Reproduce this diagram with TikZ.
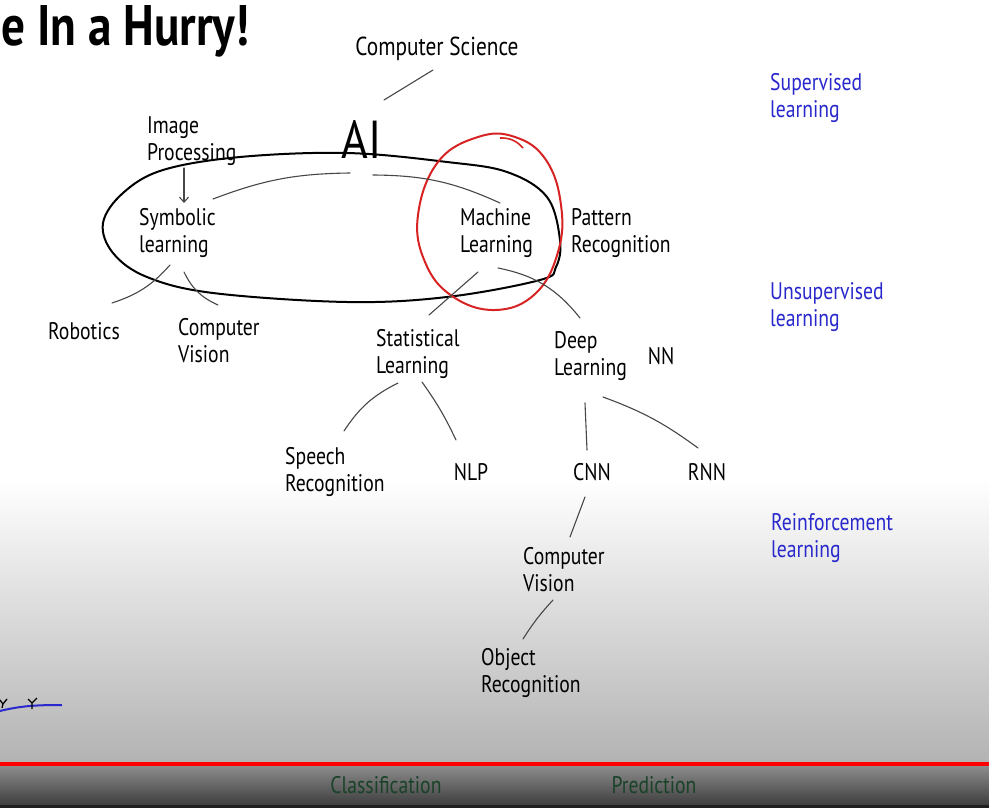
\documentclass[tikz,border=0pt]{standalone}
\usepackage{graphicx}
\usepackage{fontspec}
\setmainfont{PT Sans}[FakeStretch=0.82]
\usetikzlibrary{arrows.meta,calc}
\definecolor{mblue}{RGB}{40,40,205}
\definecolor{mgreen}{RGB}{25,66,40}
\definecolor{mred}{RGB}{215,35,35}
\definecolor{bartop}{RGB}{140,140,140}
\definecolor{barbot}{RGB}{62,62,62}
\begin{document}
\begin{tikzpicture}[x=1pt,y=-1pt,
  lbl/.style={font=\fontsize{24}{27}\selectfont, align=left, inner sep=0pt, anchor=west},
  blbl/.style={lbl, text=mblue},
  conn/.style={draw=black!72, line width=1.1pt, line cap=round},
  loop/.style={draw=black, line width=2pt},
  ]
\useasboundingbox (0,0) rectangle (989,808);
% background
\fill[white] (0,0) rectangle (989,481);
\shade[top color=white, bottom color=black!30] (0,480) rectangle (989,763);
\fill[red] (0,762) rectangle (989,766);
\shade[top color=bartop, bottom color=barbot] (0,766) rectangle (989,805);
\fill[black!88] (0,805) rectangle (989,808);

% title
\node[anchor=base west, inner sep=0pt] (title) at (1,46) {\resizebox{248pt}{40pt}{\bfseries e In a Hurry!}};

% nodes
\node[lbl, anchor=center, font=\fontsize{26}{28}\selectfont] (cs) at (437,49) {Computer Science};
\node[inner sep=0pt] (ai) at (362,139) {\resizebox{40pt}{38pt}{AI}};
\node[lbl] (ip) at (147,141) {Image\\Processing};
\node[lbl] (sym) at (139,233) {Symbolic\\learning};
\node[lbl] (ml) at (460,233) {Machine\\Learning};
\node[lbl] (pr) at (571,233) {Pattern\\Recognition};
\node[lbl] (rob) at (48,331) {Robotics};
\node[lbl] (cv1) at (178,341) {Computer\\Vision};
\node[lbl] (stat) at (376,354) {Statistical\\Learning};
\node[lbl] (deep) at (554,356) {Deep\\Learning};
\node[lbl, anchor=center] (nn) at (661,356) {NN};
\node[lbl] (speech) at (285,472) {Speech\\Recognition};
\node[lbl, anchor=center] (nlp) at (471,472) {NLP};
\node[lbl, anchor=center] (cnn) at (592,472) {CNN};
\node[lbl, anchor=center] (rnn) at (707,472) {RNN};
\node[lbl] (cv2) at (523,570) {Computer\\Vision};
\node[lbl] (obj) at (481,673) {Object\\Recognition};

\node[blbl] (sup) at (770,98) {Supervised\\learning};
\node[blbl] (unsup) at (770,307) {Unsupervised\\learning};
\node[blbl] (reinf) at (771,538) {Reinforcement\\learning};

\node[lbl, anchor=center, text=mgreen] (cls) at (386,785) {Classification};
\node[lbl, anchor=center, text=mgreen] (pred) at (654,785) {Prediction};

% AI loop
\draw[loop] plot[smooth cycle, tension=0.6] coordinates {
  (103,223) (123,193) (163,170) (240,157) (347,153) (447,162) (507,172)
  (547,197) (560,240) (556,267) (540,280) (447,297) (347,302) (213,293)
  (147,277) (113,253)};

% red circle
\draw[mred, line width=2pt] plot[smooth cycle, tension=0.7] coordinates {
  (418,215) (438,162) (478,137) (515,137) (546,160) (561,205) (558,252)
  (535,294) (495,310) (452,296) (425,262)};
\draw[mred, line width=1.6pt] (500,138) to[bend left=25] (523,148);

% connectors
\draw[conn] ($(cs)+(-4,21)$) -- ($(ai)+(22,-39)$);
\draw[conn, -{Straight Barb[length=5pt,width=9pt]}] ($(ip.west)+(37,27)$) -- ($(sym.west)+(45,-30)$);
\draw[conn] ($(sym.west)+(74,-34)$) to[bend left=10] ($(ai)+(-12,34)$);
\draw[conn] ($(ai)+(11,36)$) to[bend left=12] ($(ml.west)+(40,-30)$);
\draw[conn] ($(sym.west)+(31,32)$) to[bend left=15] ($(rob.west)+(64,-28)$);
\draw[conn] ($(sym.west)+(45,39)$) to[bend right=20] ($(cv1.west)+(40,-36)$);
\draw[conn] ($(ml.west)+(18,39)$) -- ($(stat.west)+(53,-39)$);
\draw[conn] ($(ml.west)+(38,35)$) to[bend left=20] ($(deep.west)+(26,-38)$);
\draw[conn] ($(stat.west)+(22,29)$) to[bend right=15] ($(speech.west)+(59,-41)$);
\draw[conn] ($(stat.west)+(46,28)$) to[bend left=5] ($(nlp)+(-15,-32)$);
\draw[conn] ($(deep.west)+(31,47)$) -- ($(cnn)+(-5,-22)$);
\draw[conn] ($(deep.west)+(49,41)$) to[bend left=8] ($(rnn)+(-9,-24)$);
\draw[conn] ($(cnn)+(-7,25)$) -- ($(cv2.west)+(47,-33)$);
\draw[conn] ($(cv2.west)+(30,30)$) to[bend right=5] ($(obj.west)+(42,-34)$);

% blue stroke bottom-left
\draw[mblue, line width=2pt] (0,711) .. controls (20,706) and (35,705) .. (62,705);
\draw[black, line width=1.3pt] (0,700) -- (3,704) -- (7,699) (3,704) -- (2,708);
\draw[black, line width=1.3pt] (28,699) -- (32,703) -- (37,698) (32,703) -- (32,709);
\end{tikzpicture}
\end{document}
